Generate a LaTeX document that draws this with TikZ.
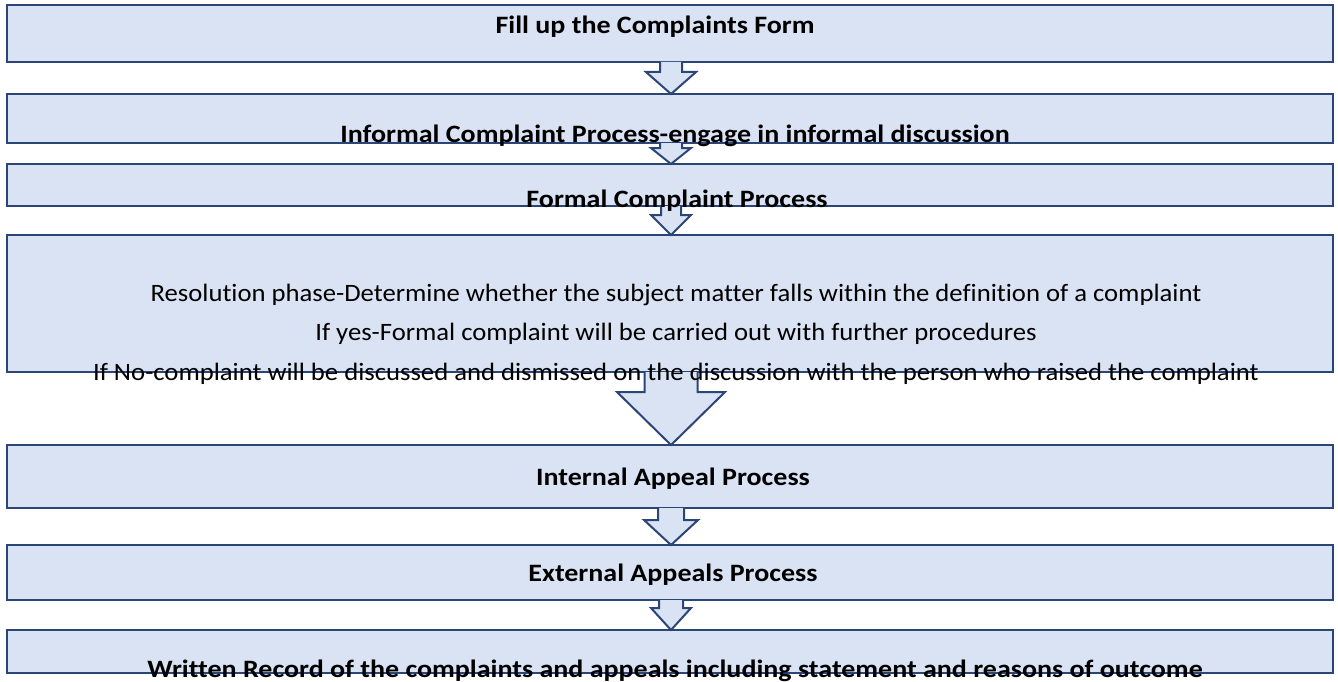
\documentclass[tikz,border=0pt]{standalone}
\usepackage{fontspec}
\usepackage{graphicx}
\setmainfont{Carlito}[Ligatures=NoCommon]
\usetikzlibrary{calc}
\definecolor{boxfill}{HTML}{DAE3F3}
\definecolor{boxline}{HTML}{2B4676}
\tikzset{
  box/.style={draw=boxline, fill=boxfill, line width=2bp, rectangle, minimum width=1326bp, inner sep=0pt, outer sep=0pt},
  arr/.style={draw=boxline, fill=boxfill, line width=2bp, line join=miter},
  lbl/.style={font=\fontsize{25bp}{30bp}\selectfont\bfseries, anchor=base, inner sep=0pt},
  txt/.style={font=\fontsize{25bp}{30bp}\selectfont, anchor=base, inner sep=0pt}
}
\newcommand\bwide[1]{\scalebox{1.12}[1]{#1}}
\newcommand\rwide[1]{\scalebox{1.067}[1]{#1}}
% #1 from node, #2 to node, #3 shaft half width, #4 head half width, #5 head length
\newcommand\blockarrow[5]{%
  \path[arr] let \p1=(#1.south), \p2=(#2.north) in
    ({(671-#3)*1bp},\y1) -- ({(671-#3)*1bp},{\y2+#5*1bp}) -- ({(671-#4)*1bp},{\y2+#5*1bp})
    -- (671bp,\y2) -- ({(671+#4)*1bp},{\y2+#5*1bp}) -- ({(671+#3)*1bp},{\y2+#5*1bp})
    -- ({(671+#3)*1bp},\y1);%
}
\begin{document}
\begin{tikzpicture}[x=1bp,y=-1bp]
\useasboundingbox (0,0) rectangle (1338,681);
\fill[white] (0,0) rectangle (1338,681);
% boxes
\node[box, minimum height=57bp]  (b1) at (670,33.5) {};
\node[box, minimum height=49bp]  (b2) at (670,118.5) {};
\node[box, minimum height=42bp]  (b3) at (670,185) {};
\node[box, minimum height=137bp] (b4) at (670,303.5) {};
\node[box, minimum height=63bp]  (b5) at (670,476.5) {};
\node[box, minimum height=55bp]  (b6) at (670,572.5) {};
\node[box, minimum height=43bp]  (b7) at (670,651.5) {};
% arrows
\blockarrow{b1}{b2}{11}{25}{22}
\blockarrow{b2}{b3}{11}{20}{16}
\blockarrow{b3}{b4}{10}{20}{20}
\blockarrow{b4}{b5}{26.5}{54}{53}
\blockarrow{b5}{b6}{13}{27}{25}
\blockarrow{b6}{b7}{12}{20}{22}
% texts
\node[lbl] (t1) at (655,34) {\bwide{Fill up the Complaints Form}};
\node[lbl] (t2) at (675,142) {\bwide{Informal Complaint Process-engage in informal discussion}};
\node[lbl] (t3) at (677,207) {\bwide{Formal Complaint Process}};
\node[txt] (t4a) at (676,301) {\rwide{Resolution phase-Determine whether the subject matter falls within the definition of a complaint}};
\node[txt] (t4b) at (676,340) {\rwide{If yes-Formal complaint will be carried out with further procedures}};
\node[txt] (t4c) at (676,380) {\rwide{If No-complaint will be discussed and dismissed on the discussion with the person who raised the complaint}};
\node[lbl] (t5) at (673,485) {\bwide{Internal Appeal Process}};
\node[lbl] (t6) at (673,581) {\bwide{External Appeals Process}};
\node[lbl] (t7) at (675,677) {\bwide{Written Record of the complaints and appeals including statement and reasons of outcome}};
\end{tikzpicture}
\end{document}
